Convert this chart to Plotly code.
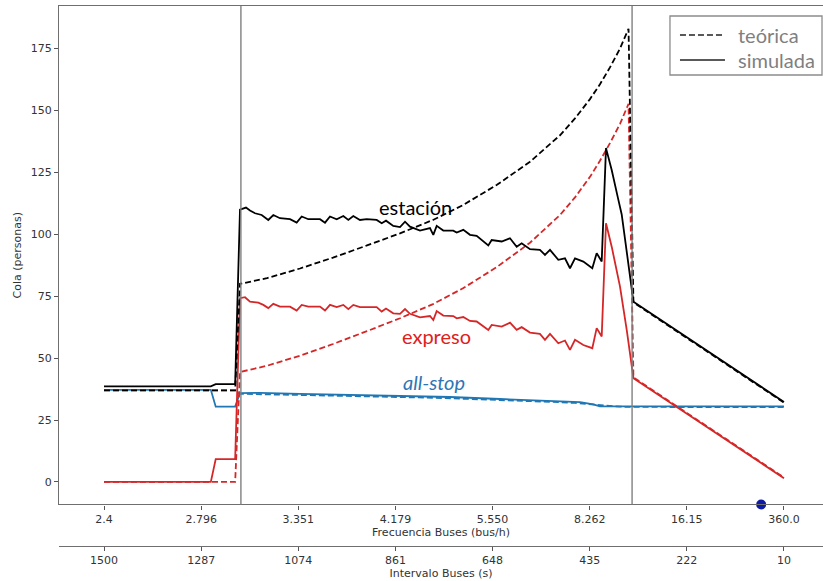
import plotly.graph_objects as go

# ---------------------------------------------------------------
# Cola media en la estación según el intervalo entre buses
# eje x en segundos de intervalo (1500 s -> 10 s)
# ---------------------------------------------------------------

# Marcas del eje x (intervalo en s) y sus etiquetas
intervalo_ticks = [1500, 1287.14, 1074.29, 861.43, 648.57, 435.71, 222.86, 10]
frecuencia_labels = ["2.4", "2.796", "3.351", "4.179", "5.550", "8.262", "16.15", "360.0"]
intervalo_labels = ["1500", "1287", "1074", "861", "648", "435", "222", "10"]

# Frecuencias (bus/h) que separan los regímenes
umbrales_frecuencia = [3.0, 10.5]

# --- simulada: estación ---
x_sim_estacion = [1500, 1265.9, 1255.2, 1212.6, 1202.0, 1188.9, 1180.1, 1169.1, 1154.5, 1140.0,
                  1129.0, 1114.4, 1092.4, 1077.8, 1066.8, 1052.3, 1026.7, 1015.7, 1004.8, 990.1,
                  975.6, 964.6, 953.7, 939.1, 924.4, 902.5, 891.5, 882.1, 866.1, 851.4,
                  840.4, 829.5, 807.6, 785.7, 778.4, 771.0, 756.5, 734.6, 727.2, 712.7,
                  698.0, 683.4, 657.9, 650.5, 628.6, 610.4, 595.7, 584.8, 566.5, 544.8,
                  533.7, 522.7, 504.5, 489.9, 478.9, 467.9, 449.7, 430.0, 420.4, 409.4,
                  400.0, 387.5, 373.0, 365.6, 354.6, 339.9, 303.6, 259.8, 216.0, 172.2,
                  128.3, 84.5, 40.7, 10]
y_sim_estacion = [38.6, 38.6, 39.5, 39.5, 110.0, 110.8, 109.6, 108.5, 107.8, 105.8,
                  107.8, 106.5, 106.1, 104.7, 107.2, 106.1, 106.1, 104.7, 107.2, 106.1,
                  107.4, 105.8, 107.4, 105.8, 106.1, 105.8, 104.5, 105.5, 103.4, 102.9,
                  105.1, 103.1, 101.5, 102.5, 99.8, 103.4, 101.5, 101.5, 100.7, 101.8,
                  99.8, 99.4, 95.5, 97.7, 97.1, 98.4, 95.0, 96.4, 94.0, 93.7,
                  91.7, 93.7, 89.7, 90.3, 86.3, 90.3, 89.0, 86.3, 92.4, 89.0,
                  134.8, 126.0, 114.0, 108.0, 93.0, 72.8, 68.3, 62.9, 57.6, 52.2,
                  46.8, 41.4, 36.0, 32.3]

# --- simulada: expreso ---
x_sim_expreso = [1500, 1265.9, 1255.2, 1212.6, 1202.0, 1191.0, 1180.1, 1161.9, 1150.9, 1140.0,
                 1129.0, 1114.4, 1092.4, 1077.8, 1066.8, 1052.3, 1026.7, 1015.7, 1004.8, 990.1,
                 975.6, 964.6, 953.7, 939.1, 902.5, 891.5, 882.1, 866.1, 851.4, 840.4,
                 829.5, 807.6, 785.7, 778.4, 771.0, 756.5, 734.6, 727.2, 712.7, 698.0,
                 683.4, 657.9, 650.5, 628.6, 610.4, 595.7, 584.8, 566.5, 544.8, 533.7,
                 522.7, 504.5, 489.9, 478.9, 467.9, 449.7, 430.0, 420.4, 409.4, 400.0,
                 387.5, 369.3, 354.6, 339.9, 10]
y_sim_expreso = [0, 0, 9.2, 9.2, 74.2, 74.6, 72.8, 72.4, 71.5, 70.2,
                 71.9, 70.8, 70.8, 69.2, 71.5, 70.8, 70.8, 69.2, 71.5, 70.6,
                 71.5, 69.8, 71.5, 70.6, 70.6, 68.8, 70.0, 68.1, 67.9, 69.8,
                 67.9, 66.5, 67.0, 65.4, 69.0, 67.2, 67.0, 66.1, 66.6, 65.0,
                 64.8, 61.4, 63.4, 62.7, 64.3, 61.4, 62.5, 60.3, 59.8, 57.4,
                 59.8, 56.0, 57.1, 53.3, 57.4, 55.3, 54.0, 62.1, 58.7, 104.5,
                 95.0, 78.9, 61.4, 41.9, 1.5]

# --- simulada: all-stop ---
x_sim_allstop = [1500, 1265.9, 1255.2, 1212.6, 1202.0, 1158.2, 1070.5, 961.0, 851.4, 741.8,
                 632.3, 522.7, 457.0, 427.9, 413.2, 339.9, 10]
y_sim_allstop = [37.2, 37.2, 30.4, 30.4, 35.9, 36.0, 35.6, 35.2, 34.8, 34.3,
                 33.5, 32.6, 32.2, 31.3, 30.5, 30.5, 30.5]

# --- teórica (mismos intervalos para las tres curvas) ---
x_teo = [1500, 1212.6, 1202.0, 1142.8, 1070.5, 998.2, 923.7, 851.4, 779.1, 713.4,
         638.9, 566.5, 500.8, 468.0, 435.1, 413.2, 391.3, 369.3, 350.6, 339.9, 10]
y_teo_estacion = [37.0, 37.0, 80.0, 82.3, 86.2, 90.6, 95.5, 100.4, 105.8, 111.8,
                  120.0, 129.3, 140.0, 146.8, 154.6, 160.6, 167.4, 175.0, 183.0, 72.5, 32.0]
y_teo_expreso = [0, 0, 44.4, 46.9, 51.0, 55.7, 60.9, 66.1, 71.8, 78.2,
                 86.8, 96.6, 107.8, 114.9, 123.2, 129.7, 136.8, 144.6, 152.7, 42.2, 1.8]
y_teo_allstop = [37.0, 37.0, 35.6, 35.4, 35.2, 34.9, 34.6, 34.3, 34.0, 33.6,
                 33.2, 32.7, 32.2, 31.9, 31.4, 30.9, 30.6, 30.4, 30.3, 30.3, 30.2]

# punto marcado sobre el eje (intervalo en s)
x_punto = [60]

# textos de la leyenda
leyenda_textos = ["teórica", "simulada"]
leyenda_estilos = ["6px,3px", "solid"]

NEGRO = "#000000"
ROJO = "#d62728"
AZUL = "#1f77b4"
DASH = "6px,3px"
LW = 1.8

X_RANGE = [1598.6, -75.5]
Y_RANGE = [-9.1, 192.2]

fig = go.Figure()


def linea(x, y, color, dash):
    fig.add_trace(go.Scatter(
        x=x, y=y, mode="lines", showlegend=False, hoverinfo="skip",
        line=dict(color=color, width=LW, dash=dash),
    ))


# all-stop, expreso y estación (simulada y teórica)
linea(x_sim_allstop, y_sim_allstop, AZUL, "solid")
linea(x_teo, y_teo_allstop, AZUL, DASH)
linea(x_sim_expreso, y_sim_expreso, ROJO, "solid")
linea(x_teo, y_teo_expreso, ROJO, DASH)
linea(x_sim_estacion, y_sim_estacion, NEGRO, "solid")
linea(x_teo, y_teo_estacion, NEGRO, DASH)

# punto sobre el eje inferior
fig.add_trace(go.Scatter(
    x=x_punto, y=[Y_RANGE[0]], xaxis="x2", yaxis="y", mode="markers",
    marker=dict(size=10, color="#0c1aa6"), cliponaxis=False,
    showlegend=False, hoverinfo="skip",
))

# líneas verticales en los umbrales de frecuencia
for f in umbrales_frecuencia:
    fig.add_shape(type="line", xref="x", yref="y domain",
                  x0=3600 / f, x1=3600 / f, y0=0, y1=1,
                  line=dict(color="#808080", width=1.4))

TXT = "Lato"
fig.add_annotation(x=818.5, y=111.1, text="estación", showarrow=False,
                   font=dict(family=TXT, size=20, color="#000000"))
fig.add_annotation(x=772.5, y=59.0, text="expreso", showarrow=False,
                   font=dict(family=TXT, size=20, color="#e0201b"))
fig.add_annotation(x=776.9, y=40.4, text="<i>all-stop</i>", showarrow=False,
                   font=dict(family=TXT, size=20, color="#2e75b6"))

# recuadro de leyenda (coordenadas de papel)
fig.add_shape(type="rect", xref="paper", yref="paper",
              x0=0.7997, x1=0.9987, y0=0.8722, y1=0.9815,
              line=dict(color="#8c8c8c", width=1.3), fillcolor="white", layer="above")
for i, (txt, estilo) in enumerate(zip(leyenda_textos, leyenda_estilos)):
    yy = 0.9463 - i * 0.0463
    fig.add_shape(type="line", xref="paper", yref="paper",
                  x0=0.8128, x1=0.8717, y0=yy, y1=yy, layer="above",
                  line=dict(color="#595959", width=2, dash=estilo))
    fig.add_annotation(xref="paper", yref="paper", x=0.8861, y=yy, text=txt,
                       xanchor="left", yanchor="middle", showarrow=False,
                       font=dict(family=TXT, size=20, color="#7f7f7f"))

eje = dict(showgrid=False, zeroline=False, showline=True, linecolor="#6f6f6f",
           linewidth=1.3, ticks="outside", ticklen=4, tickwidth=1, tickcolor="#555555",
           tickfont=dict(family="DejaVu Sans", size=11, color="#333333"))

fig.update_layout(
    width=823, height=581,
    margin=dict(l=59, r=0, t=6, b=35),
    paper_bgcolor="white", plot_bgcolor="white",
    font=dict(family="DejaVu Sans", size=11, color="#333333"),
    xaxis=dict(**eje, range=X_RANGE, anchor="y", mirror=True,
               tickmode="array", tickvals=intervalo_ticks, ticktext=frecuencia_labels,
               title=dict(text="Frecuencia Buses (bus/h)", standoff=0,
                          font=dict(family="DejaVu Sans", size=11, color="#333333"))),
    xaxis2=dict(**eje, range=X_RANGE, overlaying="x", anchor="free", position=0,
                side="bottom",
                tickmode="array", tickvals=intervalo_ticks, ticktext=intervalo_labels,
                title=dict(text="Intervalo Buses (s)", standoff=1,
                           font=dict(family="DejaVu Sans", size=11, color="#333333"))),
    yaxis=dict(**eje, domain=[0.0769, 1], range=Y_RANGE,
               tickmode="array", tickvals=[0, 25, 50, 75, 100, 125, 150, 175],
               title=dict(text="Cola (personas)", standoff=6,
                          font=dict(family="DejaVu Sans", size=11, color="#333333"))),
    showlegend=False,
)

fig.write_html("out.html")
